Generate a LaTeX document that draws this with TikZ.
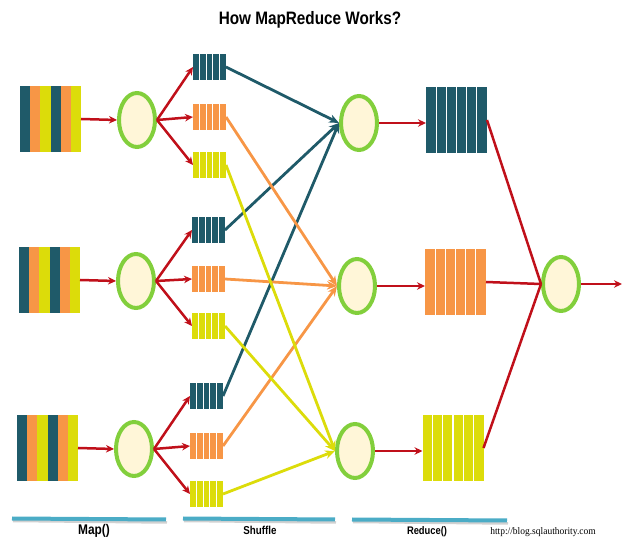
\documentclass[tikz,border=0pt]{standalone}
\usepackage{fontspec}
\setmainfont{Liberation Sans}
\newfontfamily\headfont[FakeStretch=0.85]{Liberation Sans}
\newfontfamily\urlfont[FakeStretch=0.95]{Liberation Serif}
\usetikzlibrary{shapes.geometric,arrows.meta}

\definecolor{tealc}{HTML}{1F5A69}
\definecolor{orangec}{HTML}{F79646}
\definecolor{yellowc}{HTML}{DCDC0A}
\definecolor{redc}{HTML}{C0101A}
\definecolor{ringc}{HTML}{82CF3C}
\definecolor{creamc}{HTML}{FFF6D8}
\definecolor{barc}{HTML}{4BACC6}

\begin{document}
\begin{tikzpicture}[x=1pt,y=-1pt,
  % input split: six coloured stripes
  inblock/.style={minimum width=61pt,minimum height=66pt,inner sep=0pt,outer sep=0pt,fill=tealc,
    path picture={\foreach \c [count=\i from 0] in {tealc,orangec,yellowc,tealc,orangec,yellowc}
      \fill[\c] ([xshift=\i*61/6*1pt]path picture bounding box.north west)
        rectangle ([xshift=(\i+1)*61/6*1pt]path picture bounding box.south west);}},
  % intermediate key bucket: five bars
  bucket/.style={minimum width=33pt,minimum height=26pt,inner sep=0pt,outer sep=0pt,fill=#1,
    path picture={\foreach \i in {1,...,4}
      \draw[white,line width=1.3pt] ([xshift=\i*33/5*1pt]path picture bounding box.north west)
        -- ([xshift=\i*33/5*1pt]path picture bounding box.south west);}},
  % reduced output: six bars
  rblock/.style={minimum width=61pt,minimum height=66pt,inner sep=0pt,outer sep=0pt,fill=#1,
    path picture={\foreach \i in {1,...,5}
      \draw[white,line width=1.2pt] ([xshift=\i*61/6*1pt]path picture bounding box.north west)
        -- ([xshift=\i*61/6*1pt]path picture bounding box.south west);}},
  proc/.style={ellipse,draw=ringc,line width=4pt,fill=creamc,minimum width=36pt,
    minimum height=54pt,inner sep=0pt,outer sep=2pt},
  flow/.style={draw=redc,line width=2.5pt,-{Stealth[length=8pt,width=7.5pt]}},
  mix/.style={draw=#1,line width=2.8pt,-{Stealth[length=10pt,width=8.5pt]}},
  lab/.style={font=\headfont\bfseries\fontsize{#1}{#1}\selectfont,inner sep=0pt},
  bar/.style={barc,line width=4pt},
  barshadow/.style={black!18,line width=2.5pt},
]
\useasboundingbox (0,0) rectangle (625,540);

\node[lab=18] (title) at (310,20) {How MapReduce Works?};

% map stage
\node[inblock] (in1) at (50.5,119) {};
\node[inblock] (in2) at (49.5,280) {};
\node[inblock] (in3) at (47.5,448) {};
\node[proc] (m1) at (137,120) {};
\node[proc] (m2) at (136,281) {};
\node[proc] (m3) at (134,449) {};

\node[bucket=tealc]   (t1) at (209.5,67)  {};
\node[bucket=orangec] (o1) at (209.5,117) {};
\node[bucket=yellowc] (y1) at (209.5,165) {};
\node[bucket=tealc]   (t2) at (208.5,230) {};
\node[bucket=orangec] (o2) at (208.5,279) {};
\node[bucket=yellowc] (y2) at (208.5,326) {};
\node[bucket=tealc]   (t3) at (206.5,396) {};
\node[bucket=orangec] (o3) at (206.5,446) {};
\node[bucket=yellowc] (y3) at (206.5,494) {};

% reduce stage
\node[proc] (r1) at (359,123) {};
\node[proc] (r2) at (357,286) {};
\node[proc] (r3) at (355,451) {};
\node[rblock=tealc]   (k1) at (456.5,120) {};
\node[rblock=orangec] (k2) at (455.5,282) {};
\node[rblock=yellowc] (k3) at (453,448) {};
\node[proc] (f) at (561,284) {};
\coordinate (out) at (622,284);

% shuffle connectors
\foreach \s in {t1,t2,t3} \draw[mix=tealc] (\s.east) -- (r1.west);
\foreach \s in {o1,o2,o3} \draw[mix=orangec] (\s.east) -- (r2.west);
\foreach \s in {y1,y2,y3} \draw[mix=yellowc] (\s.east) -- (r3.west);

% map connectors
\foreach \r in {1,2,3} {
  \draw[flow] (in\r.east) -- (m\r.west);
  \draw[flow] (m\r.east) -- (t\r.west);
  \draw[flow] (m\r.east) -- (o\r.west);
  \draw[flow] (m\r.east) -- (y\r.west);
  \draw[flow] (r\r.east) -- (r\r.east -| k\r.west);
  \draw[flow,-] (k\r.east) -- (f.west);
}
\draw[flow] (f.east) -- (out);

% phase bars
\draw[barshadow] (13,521) -- (167,522.5);
\draw[bar] (12,518.5) -- (166,519.5);
\draw[barshadow] (184,521) -- (336,522.5);
\draw[bar] (183,518.5) -- (335,519.5);
\draw[barshadow] (353,522) -- (508,523.5);
\draw[bar] (352,519.5) -- (507,520.5);

\node[lab=14] (lmap) at (94,531) {Map()};
\node[lab=11.5] (lshuf) at (260,530) {Shuffle};
\node[lab=11] (lred) at (427,532) {Reduce()};
\node[font=\urlfont\fontsize{10}{10}\selectfont,inner sep=0pt] (lurl) at (543,532) {http://blog.sqlauthority.com};
\end{tikzpicture}
\end{document}
